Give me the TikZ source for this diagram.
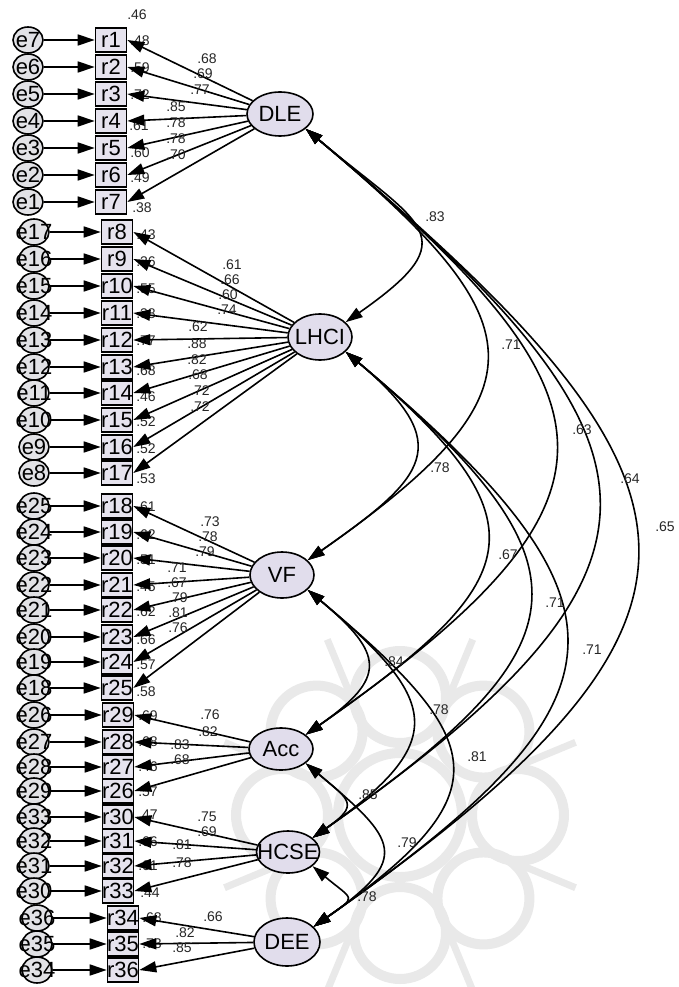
\documentclass[tikz,border=0pt]{standalone}
\usepackage{fontspec}
\setmainfont{Liberation Sans}
\usetikzlibrary{shapes.geometric,arrows.meta}
\definecolor{latfill}{HTML}{E1DDEC}
\definecolor{obsfill}{HTML}{E6E3EE}
\definecolor{errfill}{HTML}{E2E2E6}
\definecolor{wm}{HTML}{E9E9E9}
\newcommand{\zw}[1]{\makebox[0pt]{#1}}
\begin{document}
\begin{tikzpicture}[x=1pt,y=1pt,
  lat/.style={ellipse, draw, line width=1.6pt, fill=latfill, inner sep=0pt,
     minimum width=64pt, minimum height=45pt, font=\fontsize{22}{22}\selectfont},
  obs/.style={rectangle, draw, line width=1.6pt, fill=obsfill, inner sep=0pt,
     minimum width=31pt, minimum height=24pt, font=\fontsize{22}{22}\selectfont},
  err/.style={ellipse, draw, line width=1.6pt, fill=errfill, inner sep=0pt,
     minimum width=30pt, minimum height=26pt, font=\fontsize{22}{22}\selectfont},
  num/.style={inner sep=0pt, font=\fontsize{14}{14}\selectfont, text=black!85},
  ar/.style={-{Triangle[length=17pt,width=11pt]}, line width=1.6pt},
  cov/.style={{Triangle[length=17pt,width=11pt]}-{Triangle[length=17pt,width=11pt]}, line width=1.6pt},
  wmk/.style={draw=wm, line width=10pt}]
\useasboundingbox (0,0) rectangle (678,-987);
\fill[white] (0,0) rectangle (678,-987);

% faint background watermark (rosette)
\begin{scope}[shift={(400,-815)}]
  \draw[wmk] (0,0) circle (62);
  \foreach \a in {0,45,...,315}{
    \draw[wmk] (\a:118) circle (46);
    \draw[wmk, line width=7pt] (\a+22.5:90) .. controls (\a+22.5:140) .. (\a+22.5:190);}
\end{scope}

% latent variables
\node[lat, minimum width=66pt, minimum height=44pt] (DLE) at (280,-114) {\zw{DLE}};
\node[lat, minimum height=46pt] (LHCI) at (320,-337) {\zw{LHCI}};
\node[lat, minimum height=46pt] (VF) at (282,-575) {\zw{VF}};
\node[lat, minimum height=42pt] (Acc) at (281,-749) {\zw{Acc}};
\node[lat, minimum width=63pt, minimum height=42pt] (HCSE) at (288,-852) {\zw{HCSE}};
\node[lat, minimum width=66pt, minimum height=48pt] (DEE) at (287,-942) {\zw{DEE}};

% observed variables and error terms
\foreach \r/\e/\y in {1/7/40,2/6/67,3/5/94,4/4/121,5/3/148,6/2/175,7/1/202}{
  \node[obs] (r\r) at (111,-\y) {\zw{r\r}};
  \node[err] (e\e) at (28,-\y) {\zw{e\e}};}
\foreach \r/\e/\y in {8/17/232,9/16/259,10/15/286,11/14/313,12/13/340,13/12/367,14/11/393,15/10/420,16/9/447,17/8/473}{
  \node[obs] (r\r) at (117,-\y) {\zw{r\r}};
  \node[err] (e\e) at (34,-\y) {\zw{e\e}};}
\foreach \r/\e/\y in {18/25/506,19/24/532,20/23/558,21/22/585,22/21/610,23/20/637,24/19/662,25/18/688}{
  \node[obs] (r\r) at (117,-\y) {\zw{r\r}};
  \node[err] (e\e) at (34,-\y) {\zw{e\e}};}
\foreach \r/\e/\y in {29/26/715,28/27/742,27/28/767,26/29/791,30/33/817,31/32/841,32/31/866,33/30/891}{
  \node[obs] (r\r) at (118,-\y) {\zw{r\r}};
  \node[err] (e\e) at (34,-\y) {\zw{e\e}};}
\foreach \r/\e/\y in {34/36/918,35/35/944,36/34/970}{
  \node[obs] (r\r) at (123,-\y) {\zw{r\r}};
  \node[err] (e\e) at (37,-\y) {\zw{e\e}};}

% squared multiple correlations
\foreach \t/\x/\y [count=\k] in {.46/137/15,.48/140/41,.59/140/68,.72/140/95,.61/139/126,.60/140/153,.49/140/178,.38/142/208,
  .43/146/235,.36/146/262,.55/146/289,.38/146/314,.77/146/341,.68/146/371,.46/146/397,.52/146/422,.52/146/449,.53/146/479,
  .61/146/507,.62/146/535,.51/146/560,.45/146/587,.62/146/612,.66/146/640,.57/146/665,.58/146/692,
  .69/148/716,.68/148/742,.46/148/767,.57/148/792,.47/148/815,.66/148/842,.61/148/866,.44/150/893,
  .68/152/918,.73/152/944}{
  \node[num] (s\k) at (\x,-\y) {\t};}

% error arrows
\foreach \r/\e in {1/7,2/6,3/5,4/4,5/3,6/2,7/1,8/17,9/16,10/15,11/14,12/13,13/12,14/11,15/10,16/9,17/8,
  18/25,19/24,20/23,21/22,22/21,23/20,24/19,25/18,29/26,28/27,27/28,26/29,30/33,31/32,32/31,33/30,34/36,35/35,36/34}{
  \draw[ar] (e\e) -- (r\r);}

% loadings
\foreach \r in {1,...,7}{\draw[ar] (DLE) -- (r\r.east);}
\foreach \r in {8,...,17}{\draw[ar] (LHCI) -- (r\r.east);}
\foreach \r in {18,...,25}{\draw[ar] (VF) -- (r\r.east);}
\foreach \r in {26,...,29}{\draw[ar] (Acc) -- (r\r.east);}
\foreach \r in {30,...,33}{\draw[ar] (HCSE) -- (r\r.east);}
\foreach \r in {34,...,36}{\draw[ar] (DEE) -- (r\r.east);}

% loading values
\foreach \t/\x/\y [count=\k] in {.68/207/59,.69/203/74,.77/200/90,.85/176/107,.78/176/123,.78/176/139,.70/176/155,
  .61/232/265,.66/230/280,.60/228/295,.74/227/310,.62/198/327,.88/197/344,.82/197/360,.68/198/375,.72/200/391,.72/200/407,
  .73/210/522,.78/208/537,.79/205/552,.71/177/568,.67/177/583,.79/178/598,.81/178/613,.76/178/628,
  .76/210/715,.82/208/732,.83/180/745,.68/180/760,
  .75/207/817,.69/207/832,.81/182/845,.78/182/863,
  .66/213/917,.82/185/933,.85/182/948}{
  \node[num] (w\k) at (\x,-\y) {\t};}

% covariances
\draw[cov] (DLE.-30) to[out=-40,in=35,distance=151pt] (LHCI.30);
\draw[cov] (DLE.-30) to[out=-40,in=35,distance=300pt] (VF.30);
\draw[cov] (DLE.-30) to[out=-40,in=35,distance=418pt] (Acc.30);
\draw[cov] (DLE.-30) to[out=-40,in=35,distance=484pt] (HCSE.30);
\draw[cov] (DLE.-30) to[out=-40,in=35,distance=548pt] (DEE.30);
\draw[cov] (LHCI.-30) to[out=-40,in=35,distance=145pt] (VF.30);
\draw[cov] (LHCI.-30) to[out=-40,in=35,distance=268pt] (Acc.30);
\draw[cov] (LHCI.-30) to[out=-40,in=35,distance=335pt] (HCSE.30);
\draw[cov] (LHCI.-30) to[out=-40,in=35,distance=395pt] (DEE.30);
\draw[cov] (VF.-30) to[out=-40,in=35,distance=100pt] (Acc.30);
\draw[cov] (VF.-30) to[out=-40,in=35,distance=170pt] (HCSE.30);
\draw[cov] (VF.-30) to[out=-40,in=35,distance=235pt] (DEE.30);
\draw[cov] (Acc.-30) to[out=-40,in=35,distance=58pt] (HCSE.30);
\draw[cov] (Acc.-30) to[out=-40,in=35,distance=120pt] (DEE.30);
\draw[cov] (HCSE.-30) to[out=-40,in=35,distance=54pt] (DEE.30);

% covariance values
\foreach \t/\x/\y [count=\k] in {.83/435/217,.71/511/345,.63/582/430,.64/630/479,.65/665/527,
  .78/440/468,.67/508/555,.71/555/603,.71/592/650,
  .84/394/662,.78/439/710,.81/477/757,
  .85/368/795,.79/407/843,.78/367/897}{
  \node[num] (c\k) at (\x,-\y) {\t};}
\end{tikzpicture}
\end{document}
